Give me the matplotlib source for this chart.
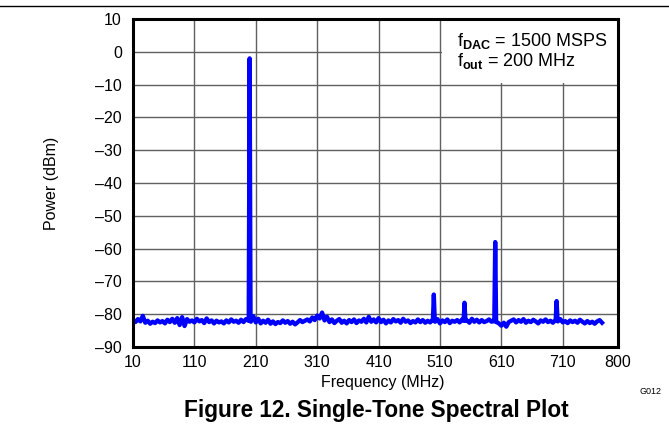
import numpy as np
import matplotlib
matplotlib.use("Agg")
import matplotlib.pyplot as plt
from matplotlib.lines import Line2D
from matplotlib.patches import Rectangle

plt.rcParams['font.family'] = ['Liberation Sans', 'DejaVu Sans']
plt.rcParams['mathtext.fontset'] = 'custom'
plt.rcParams['mathtext.rm'] = 'Liberation Sans'
plt.rcParams['mathtext.bf'] = 'Liberation Sans:bold'

# ---- data ----
floor_start, floor_stop, floor_step = 10, 774, 4
floor_power = [
    -81.8, -82.4, -81.5, -82.2, -80.5, -82.6, -82.0, -82.9, -82.3, -82.7, -81.9, -82.5,
    -82.1, -82.8, -81.7, -82.4, -81.4, -82.6, -81.2, -83.3, -80.9, -83.6, -81.5, -82.3,
    -81.9, -82.5, -81.4, -82.2, -81.8, -82.7, -81.3, -82.4, -81.9, -82.8, -82.0, -82.5,
    -82.2, -82.8, -81.9, -82.5, -81.6, -82.3, -82.0, -82.6, -81.7, -82.4, -81.5, -82.0,
    -82.3, -80.6, -82.5, -81.4, -82.8, -82.0, -82.6, -81.7, -82.9, -82.2, -83.0, -82.4,
    -82.7, -81.9, -82.6, -82.1, -82.9, -82.3, -83.1, -82.5, -81.8, -82.4, -82.0, -81.6,
    -82.2, -81.0, -81.8, -80.4, -81.3, -79.5, -81.9, -80.8, -82.4, -81.6, -82.7, -82.0,
    -81.5, -82.6, -82.0, -82.8, -81.8, -82.4, -81.6, -82.7, -81.9, -82.3, -81.4, -82.5,
    -80.8, -82.3, -81.6, -82.5, -81.2, -82.4, -81.7, -82.8, -81.9, -82.5, -81.5, -82.2,
    -81.8, -82.6, -81.4, -82.3, -81.9, -82.7, -82.1, -82.5, -81.6, -82.4, -81.8, -82.6,
    -82.0, -82.5, -81.7, -82.3, -81.5, -82.8, -81.9, -82.4, -81.6, -82.7, -82.0, -82.3,
    -81.8, -82.5, -81.6, -82.2, -81.9, -82.6, -81.4, -82.3, -81.7, -82.5, -81.8, -82.4,
    -82.1, -81.6, -82.3, -81.9, -82.4, -82.8, -83.5, -82.6, -83.8, -82.4, -82.0, -81.6,
    -82.5, -81.8, -82.3, -81.5, -82.6, -82.0, -82.4, -81.7, -82.2, -82.8, -81.9, -82.3,
    -81.6, -82.4, -82.0, -82.6, -81.8, -82.2, -81.5, -82.5, -82.1, -82.7, -81.9, -82.4,
    -82.0, -82.6, -81.7, -82.3, -82.8, -82.1, -82.7, -82.3, -82.9, -82.2, -81.8, -82.6,
]
spike_freq = [200, 500, 550, 600, 700]
spike_peak = [-2.0, -74.0, -76.5, -58.0, -76.0]
spike_base = [-82.0, -81.8, -82.0, -82.2, -81.6]

xticks = [10, 110, 210, 310, 410, 510, 610, 710, 800]
yticks = list(range(-90, 11, 10))

# ---- assemble trace ----
floor_freq = np.arange(floor_start, floor_stop + 1, floor_step)
fp = np.array(floor_power)
keep = np.ones(len(floor_freq), bool)
for f in spike_freq:
    keep &= np.abs(floor_freq - f) >= 2
xs = list(floor_freq[keep]); ys = list(fp[keep])
for f, p, b in zip(spike_freq, spike_peak, spike_base):
    xs += [f - 1.5, f, f + 1.5]
    ys += [b, p, b]
order = np.argsort(xs)
xs = np.array(xs)[order]; ys = np.array(ys)[order]

# ---- figure ----
fig = plt.figure(figsize=(6.69, 4.34), dpi=100)
ax = fig.add_axes([133/669, 1-347/434, 485/669, 328/434])
ax.plot(xs, ys, color='#0000FF', lw=3.1, zorder=3, solid_joinstyle='round')
ax.set_xlim(10, 800)
ax.set_ylim(-90, 10)
ax.set_xticks(xticks)
ax.set_yticks(yticks)
ax.set_yticklabels([str(t).replace('-', '\u2013') for t in yticks])
ax.tick_params(length=0, labelsize=11.5, pad=8)
ax.tick_params(axis='x', pad=6)
ax.grid(True, color='#606060', lw=1.0)
ax.set_axisbelow(True)
for s in ax.spines.values():
    s.set_linewidth(2.2)
    s.set_zorder(5)

ax.add_patch(Rectangle((0.638, 0.805), 0.362, 0.195, transform=ax.transAxes,
                       facecolor='white', edgecolor='none', zorder=2))
ax.text(0.668, 0.932, r'f$_{\mathbf{DAC}}$ = 1500 MSPS', transform=ax.transAxes,
        fontsize=13, va='center', ha='left', zorder=4)
ax.text(0.668, 0.872, r'f$_{\mathbf{out}}$ = 200 MHz', transform=ax.transAxes,
        fontsize=13, va='center', ha='left', zorder=4)

fig.text(383/669, 1-383/434, 'Frequency (MHz)', fontsize=11.5, ha='center', va='center')
fig.text(52/669, 1-183/434, 'Power (dBm)', fontsize=11.5, ha='center', va='center', rotation=90)
fig.text(650/669, 1-392/434, 'G012', fontsize=6.5, ha='center', va='center')
fig.text(376/669, 1-410/434, 'Figure 12. Single-Tone Spectral Plot', fontsize=16.3,
         fontweight='bold', ha='center', va='center')
fig.add_artist(Line2D([0, 1], [1-6/434, 1-6/434], color='black', lw=1.0,
                      transform=fig.transFigure))

fig.savefig('out.png', dpi=100)
